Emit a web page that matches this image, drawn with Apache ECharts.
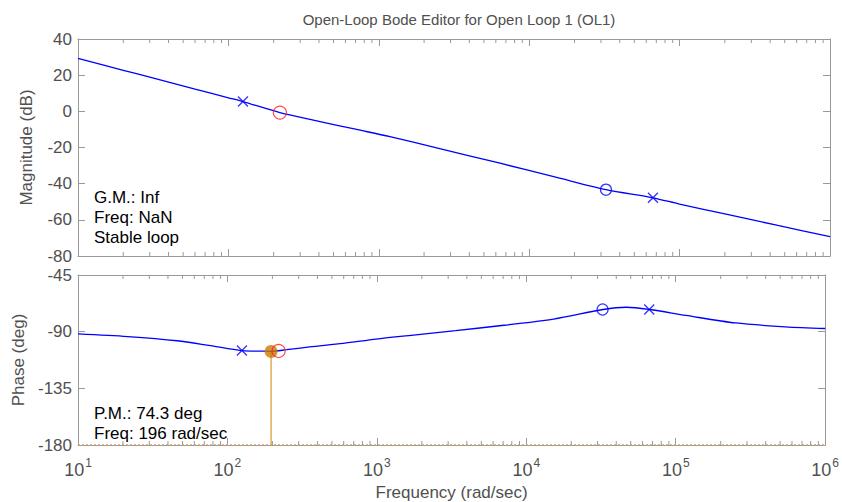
<!DOCTYPE html>
<html>
<head>
<meta charset="utf-8">
<script src="https://cdn.jsdelivr.net/npm/echarts@6/dist/echarts.min.js"></script>
<style>
html,body{margin:0;padding:0;background:#fff;}
#chart{width:842px;height:502px;}
</style>
</head>
<body>
<div id="chart"></div>
<script>
// ---- data ----
const titleText = 'Open-Loop Bode Editor for Open Loop 1 (OL1)';
const magFreq = [10, 20, 30, 60, 100, 125, 220, 400, 700, 1186, 2500, 6400, 15000, 32400, 66500, 100000, 200000, 450000, 1000000];
const magDb   = [29.3, 22.7, 18.9, 12.3, 7.5, 5.4, -0.7, -5.5, -9.9, -14.0, -20.5, -28.7, -36.4, -43.3, -47.8, -51.3, -56.7, -63.1, -69.3];
const phaseFreq = [10, 21.5, 46, 77, 125, 178, 196, 249, 355, 596, 988, 1637, 3366, 7080, 15240, 32700, 46800, 66800, 117000, 252000, 542000, 1000000];
const phaseDeg  = [-91.8, -93.9, -97.2, -101.1, -105.0, -105.5, -105.6, -104.3, -102.1, -99.3, -95.9, -93.1, -89.2, -84.9, -80.0, -72.4, -70.6, -72.4, -77.1, -83.1, -86.2, -87.5];
const poleFreq = [125, 66500];
const poleMag = [5.4, -47.8];
const polePhase = [-105.0, -72.4];
const zeroFreq = [32400];
const zeroMag = [-43.3];
const zeroPhase = [-72.4];
const markFreq = [220];
const markMag = [-0.7];
const markPhase = [-105.3];
const pmFreq = 196;
const pmPhase = -105.7;
const magTicks = [-80, -60, -40, -20, 0, 20, 40];
const phaseTicks = [-180, -135, -90, -45];
const gmText = ['G.M.: Inf', 'Freq: NaN', 'Stable loop'];
const pmText = ['P.M.: 74.3 deg', 'Freq: 196 rad/sec'];
const xName = 'Frequency (rad/sec)';
const magName = 'Magnitude (dB)';
const phaseName = 'Phase (deg)';

// minor tick positions on the log axis (2..9 per decade)
const minorFreq = [];
for (let d = 1; d < 6; d++) for (let k = 2; k < 10; k++) minorFreq.push(k * Math.pow(10, d));

const FONT = 'Liberation Sans, Arial, Helvetica, sans-serif';
const AX = '#999999';
const TXT = '#505050';
const BLUE = '#0000ff';

const zip = (a, b) => a.map((v, i) => [v, b[i]]);

const chart = echarts.init(document.getElementById('chart'), null, {renderer: 'svg'});

function xAx(grid, pos, labels) {
  return {
    type: 'log', logBase: 10, gridIndex: grid, position: pos, min: 10, max: 1000000,
    axisLine: {show: true, onZero: false, lineStyle: {color: AX, width: 1}},
    axisTick: {show: true, inside: true, length: 7, lineStyle: {color: AX}},
    splitLine: {show: false},
    axisLabel: labels ? {
      show: true, margin: 12, fontFamily: FONT,
      formatter: v => '{b|10}{s|' + Math.round(Math.log10(v)) + '}',
      rich: {
        b: {fontSize: 18, color: TXT, fontFamily: FONT, lineHeight: 22, verticalAlign: 'bottom'},
        s: {fontSize: 12, color: TXT, fontFamily: FONT, lineHeight: 22, verticalAlign: 'top', padding: [0, 0, 10, 1]}
      }
    } : {show: false},
    name: labels ? xName : '', nameLocation: 'middle', nameGap: 39,
    nameTextStyle: {fontSize: 17, color: TXT, fontFamily: FONT}
  };
}
function yAx(grid, pos, min, max, interval, name) {
  return {
    type: 'value', gridIndex: grid, position: pos, min: min, max: max, interval: interval,
    axisLine: {show: true, onZero: false, lineStyle: {color: AX, width: 1}},
    axisTick: {show: true, inside: true, length: 7, lineStyle: {color: AX}},
    splitLine: {show: false},
    axisLabel: name ? {show: true, fontSize: 17, color: TXT, fontFamily: FONT, margin: 6} : {show: false},
    name: name || '', nameLocation: 'middle', nameGap: 43, nameRotate: 90,
    nameTextStyle: {fontSize: 17, color: TXT, fontFamily: FONT}
  };
}
function minorSeries(xi, yi, yb, yt) {
  return {
    type: 'custom', xAxisIndex: xi, yAxisIndex: yi, silent: true, clip: false, z: 5,
    data: minorFreq.map(f => [f]),
    renderItem: (params, api) => {
      const f = api.value(0);
      const pb = api.coord([f, yb]);
      const pt = api.coord([f, yt]);
      const st = {stroke: AX, lineWidth: 1};
      return {type: 'group', children: [
        {type: 'line', shape: {x1: pb[0], y1: pb[1], x2: pb[0], y2: pb[1] - 4}, style: st},
        {type: 'line', shape: {x1: pt[0], y1: pt[1], x2: pt[0], y2: pt[1] + 4}, style: st}
      ]};
    }
  };
}
const XSYM = 'path://M0,0L10,10M10,0L0,10';

const option = {
  animation: false,
  backgroundColor: '#ffffff',
  title: {
    text: titleText, left: 454, top: 7, textAlign: 'center',
    textStyle: {fontSize: 15, fontWeight: 'normal', color: TXT, fontFamily: FONT}
  },
  grid: [
    {left: 78, right: 12, top: 39, height: 217},
    {left: 78, right: 12, top: 275, height: 175}
  ],
  xAxis: [xAx(0, 'bottom', false), xAx(0, 'top', false), xAx(1, 'bottom', true), xAx(1, 'top', false)],
  yAxis: [
    yAx(0, 'left', magTicks[0], magTicks[magTicks.length - 1], 20, magName),
    yAx(0, 'right', magTicks[0], magTicks[magTicks.length - 1], 20, null),
    yAx(1, 'left', phaseTicks[0], phaseTicks[phaseTicks.length - 1], 45, phaseName),
    yAx(1, 'right', phaseTicks[0], phaseTicks[phaseTicks.length - 1], 45, null)
  ],
  series: [
    minorSeries(0, 0, -80, 40),
    minorSeries(2, 2, -180, -45),
    {type: 'line', xAxisIndex: 0, yAxisIndex: 0, data: zip(magFreq, magDb), showSymbol: false, smooth: 0.3,
     lineStyle: {color: BLUE, width: 1.3}, silent: true, z: 3},
    {type: 'line', xAxisIndex: 2, yAxisIndex: 2, data: [[magFreq[0], phaseTicks[0]], [magFreq[magFreq.length - 1], phaseTicks[0]]],
     showSymbol: false, lineStyle: {color: '#d9a060', width: 1.3, type: [2, 2]}, silent: true, z: 2},
    {type: 'line', xAxisIndex: 2, yAxisIndex: 2, data: [[pmFreq, pmPhase], [pmFreq, phaseTicks[0]]],
     showSymbol: false, lineStyle: {color: '#e3a547', width: 1.4}, silent: true, z: 2},
    {type: 'line', xAxisIndex: 2, yAxisIndex: 2, data: zip(phaseFreq, phaseDeg), showSymbol: false, smooth: 0.3,
     lineStyle: {color: BLUE, width: 1.3}, silent: true, z: 3},
    // magnitude markers
    {type: 'scatter', xAxisIndex: 0, yAxisIndex: 0, data: zip(poleFreq, poleMag), symbol: XSYM, symbolSize: 10,
     itemStyle: {color: 'none', borderColor: BLUE, borderWidth: 1.3}, silent: true, z: 6},
    {type: 'scatter', xAxisIndex: 0, yAxisIndex: 0, data: zip(zeroFreq, zeroMag), symbol: 'circle', symbolSize: 11,
     itemStyle: {color: 'rgba(0,0,0,0)', borderColor: BLUE, borderWidth: 1.2}, silent: true, z: 6},
    {type: 'scatter', xAxisIndex: 0, yAxisIndex: 0, data: zip(markFreq, markMag), symbol: 'circle', symbolSize: 13,
     itemStyle: {color: 'rgba(0,0,0,0)', borderColor: '#ff2020', borderWidth: 1.2}, silent: true, z: 6},
    // phase markers
    {type: 'scatter', xAxisIndex: 2, yAxisIndex: 2, data: [[pmFreq, pmPhase]], symbol: 'circle', symbolSize: 13,
     itemStyle: {color: '#cc7a00'}, silent: true, z: 6},
    {type: 'scatter', xAxisIndex: 2, yAxisIndex: 2, data: zip(poleFreq, polePhase), symbol: XSYM, symbolSize: 10,
     itemStyle: {color: 'none', borderColor: BLUE, borderWidth: 1.3}, silent: true, z: 6},
    {type: 'scatter', xAxisIndex: 2, yAxisIndex: 2, data: zip(zeroFreq, zeroPhase), symbol: 'circle', symbolSize: 11,
     itemStyle: {color: 'rgba(0,0,0,0)', borderColor: BLUE, borderWidth: 1.2}, silent: true, z: 6},
    {type: 'scatter', xAxisIndex: 2, yAxisIndex: 2, data: zip(markFreq, markPhase), symbol: 'circle', symbolSize: 13,
     itemStyle: {color: 'rgba(0,0,0,0)', borderColor: '#ff2020', borderWidth: 1.2}, silent: true, z: 7}
  ],
  graphic: [
    {type: 'text', left: 94, top: 187, silent: true, style: {text: gmText.join('\n'), font: '17px ' + FONT, fill: '#000', lineHeight: 20}},
    {type: 'text', left: 94, top: 403, silent: true, style: {text: pmText.join('\n'), font: '17px ' + FONT, fill: '#000', lineHeight: 20}}
  ]
};
chart.setOption(option);
</script>
</body>
</html>
